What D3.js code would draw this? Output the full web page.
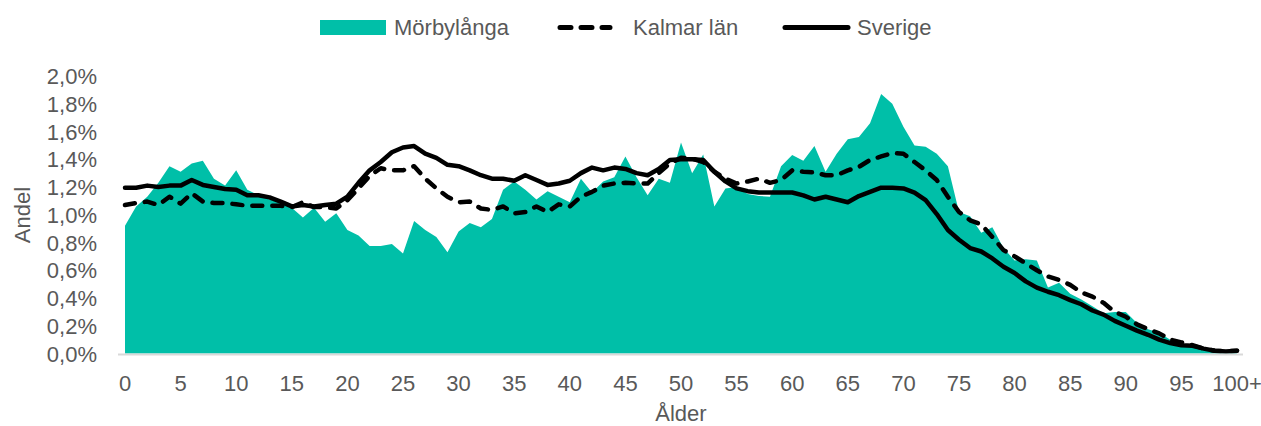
<!DOCTYPE html>
<html>
<head>
<meta charset="utf-8">
<script src="https://cdn.jsdelivr.net/npm/d3@7"></script>
<style>
  body { margin: 0; background: #fff; }
  text { font-family: "Liberation Sans", Arial, sans-serif; fill: #595959; }
</style>
</head>
<body>
<script>
const width = 1261
const height = 426

// ages 0..100 (last one is "100+")
const ages = d3.range(0, 101)

// share of population per age, in percent
const morbylanga = [
  0.92, 1.06, 1.13, 1.23, 1.35, 1.31, 1.37, 1.39, 1.26, 1.21,
  1.32, 1.18, 1.14, 1.11, 1.09, 1.05, 0.98, 1.05, 0.95, 1.01,
  0.89, 0.85, 0.775, 0.775, 0.79, 0.72, 0.955, 0.89, 0.84, 0.73,
  0.88, 0.94, 0.91, 0.97, 1.18, 1.24, 1.18, 1.11, 1.17, 1.13,
  1.09, 1.26, 1.16, 1.24, 1.27, 1.42, 1.27, 1.14, 1.26, 1.23,
  1.52, 1.30, 1.435, 1.06, 1.19, 1.2, 1.15, 1.135, 1.13, 1.35,
  1.43, 1.39, 1.495, 1.31, 1.44, 1.545, 1.56, 1.66, 1.87, 1.80,
  1.635, 1.50, 1.49, 1.44, 1.35, 1.02, 0.99, 0.87, 0.91, 0.76,
  0.67, 0.68, 0.67, 0.475, 0.51, 0.43, 0.39, 0.34, 0.29, 0.3,
  0.30, 0.22, 0.175, 0.15, 0.10, 0.07, 0.06, 0.03, 0.02, 0.015,
  0.02
]

const kalmar = [
  1.07, 1.085, 1.095, 1.07, 1.13, 1.08, 1.155, 1.095, 1.085, 1.085,
  1.075, 1.065, 1.065, 1.065, 1.065, 1.055, 1.09, 1.055, 1.055, 1.045,
  1.105, 1.19, 1.28, 1.335, 1.32, 1.32, 1.35, 1.26, 1.19, 1.13,
  1.09, 1.095, 1.045, 1.035, 1.06, 1.01, 1.02, 1.06, 1.02, 1.075,
  1.06, 1.13, 1.165, 1.21, 1.225, 1.23, 1.225, 1.225, 1.30, 1.37,
  1.41, 1.405, 1.38, 1.31, 1.26, 1.225, 1.24, 1.26, 1.23, 1.25,
  1.32, 1.31, 1.305, 1.285, 1.285, 1.32, 1.345, 1.395, 1.42, 1.445,
  1.44, 1.38, 1.32, 1.25, 1.13, 1.02, 0.96, 0.93, 0.84, 0.745,
  0.70, 0.65, 0.60, 0.555, 0.53, 0.495, 0.44, 0.41, 0.365, 0.30,
  0.265, 0.21, 0.175, 0.145, 0.10, 0.08, 0.06, 0.035, 0.02, 0.015,
  0.02
]

const sverige = [
  1.195, 1.195, 1.21, 1.20, 1.21, 1.21, 1.25, 1.215, 1.20, 1.185,
  1.18, 1.14, 1.14, 1.125, 1.095, 1.06, 1.07, 1.06, 1.07, 1.08,
  1.13, 1.23, 1.32, 1.38, 1.45, 1.485, 1.495, 1.44, 1.41, 1.36,
  1.35, 1.32, 1.285, 1.26, 1.26, 1.245, 1.285, 1.25, 1.215, 1.225,
  1.245, 1.30, 1.34, 1.32, 1.34, 1.33, 1.30, 1.285, 1.33, 1.395,
  1.40, 1.40, 1.395, 1.31, 1.24, 1.19, 1.17, 1.16, 1.16, 1.16,
  1.16, 1.14, 1.11, 1.13, 1.11, 1.09, 1.135, 1.165, 1.195, 1.195,
  1.19, 1.16, 1.105, 1.005, 0.89, 0.82, 0.76, 0.735, 0.685, 0.625,
  0.58, 0.52, 0.475, 0.445, 0.42, 0.385, 0.355, 0.31, 0.28, 0.235,
  0.20, 0.165, 0.135, 0.10, 0.075, 0.06, 0.055, 0.035, 0.02, 0.015,
  0.02
]

const xTicks = d3.range(0, 101, 5)
const yTicks = d3.range(0, 2.01, 0.2)

const teal = '#00bfa8'

const svg = d3.select('body').append('svg')
    .attr('width', width)
    .attr('height', height)

const x = d3.scaleLinear().domain([0, 100]).range([125, 1237])
const y = d3.scaleLinear().domain([0, 2]).range([353.5, 76])

// Mörbylånga area
const area = d3.area()
    .x((d, i) => x(ages[i]))
    .y0(y(0))
    .y1(d => y(d))
svg.append('path')
    .datum(morbylanga)
    .attr('d', area)
    .style('fill', teal)

// Kalmar län dashed line
const line = d3.line()
    .x((d, i) => x(ages[i]))
    .y(d => y(d))
svg.append('path')
    .datum(kalmar)
    .attr('d', line)
    .style('fill', 'none')
    .style('stroke', '#000')
    .style('stroke-width', 4.5)
    .style('stroke-linecap', 'round')
    .style('stroke-linejoin', 'round')
    .style('stroke-dasharray', '10,10')

// Sverige solid line
svg.append('path')
    .datum(sverige)
    .attr('d', line)
    .style('fill', 'none')
    .style('stroke', '#000')
    .style('stroke-width', 4.5)
    .style('stroke-linecap', 'round')
    .style('stroke-linejoin', 'round')

// x axis line
svg.append('line')
    .attr('x1', 118).attr('x2', 1243)
    .attr('y1', y(0) + 1).attr('y2', y(0) + 1)
    .style('stroke', '#d9d9d9')
    .style('stroke-width', 2)

// x tick labels
svg.selectAll('.xlab')
    .data(xTicks)
    .enter().append('text')
    .attr('class', 'xlab')
    .attr('x', d => x(d))
    .attr('y', 391)
    .attr('text-anchor', 'middle')
    .style('font-size', '22px')
    .text(d => d === 100 ? '100+' : d)

// y tick labels
const fmt = d => d.toFixed(1).replace('.', ',') + '%'
svg.selectAll('.ylab')
    .data(yTicks)
    .enter().append('text')
    .attr('class', 'ylab')
    .attr('x', 97)
    .attr('y', d => y(d) + 8)
    .attr('text-anchor', 'end')
    .style('font-size', '22px')
    .text(fmt)

// axis titles
svg.append('text')
    .attr('x', x(50))
    .attr('y', 421)
    .attr('text-anchor', 'middle')
    .style('font-size', '22px')
    .text('Ålder')

svg.append('text')
    .attr('transform', 'translate(30,215) rotate(-90)')
    .attr('text-anchor', 'middle')
    .style('font-size', '22px')
    .text('Andel')

// legend
const legend = svg.append('g')
svg.append('rect')
    .attr('x', 320).attr('y', 20)
    .attr('width', 66).attr('height', 15)
    .style('fill', teal)
svg.append('text')
    .attr('x', 394).attr('y', 35)
    .style('font-size', '22px')
    .text('Mörbylånga')

svg.append('line')
    .attr('x1', 560).attr('x2', 610)
    .attr('y1', 27.5).attr('y2', 27.5)
    .style('stroke', '#000')
    .style('stroke-width', 5)
    .style('stroke-linecap', 'round')
    .style('stroke-dasharray', '11,10')
svg.append('text')
    .attr('x', 633).attr('y', 35)
    .style('font-size', '22px')
    .text('Kalmar län')

svg.append('line')
    .attr('x1', 785).attr('x2', 848)
    .attr('y1', 27.5).attr('y2', 27.5)
    .style('stroke', '#000')
    .style('stroke-width', 5)
    .style('stroke-linecap', 'round')
svg.append('text')
    .attr('x', 857).attr('y', 35)
    .style('font-size', '22px')
    .text('Sverige')
</script>
</body>
</html>
